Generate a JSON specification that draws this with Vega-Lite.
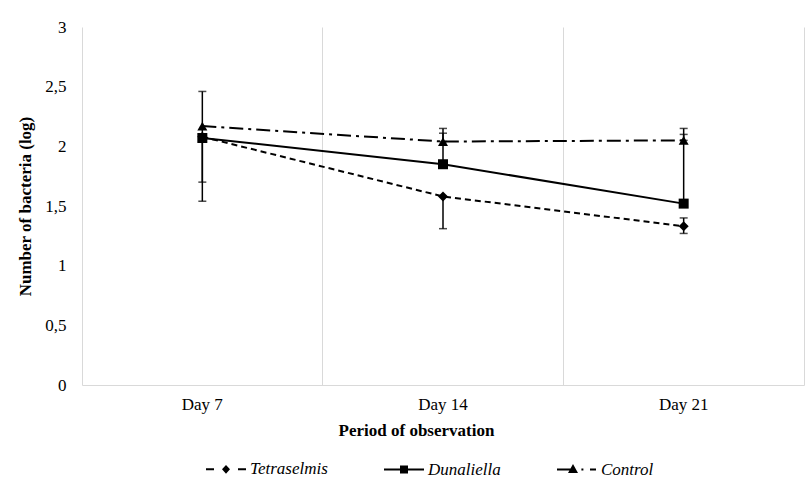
{
  "$schema": "https://vega.github.io/schema/vega-lite/v6.json",
  "width": 722,
  "height": 358,
  "autosize": "none",
  "padding": {"left": 82, "top": 27, "right": 8, "bottom": 116},
  "background": "white",
  "config": {"view": {"stroke": null}, "font": "Liberation Serif"},
  "datasets": {
    "means": [
      {"day": "Day 7", "series": "Tetraselmis", "value": 2.08},
      {"day": "Day 14", "series": "Tetraselmis", "value": 1.58},
      {"day": "Day 21", "series": "Tetraselmis", "value": 1.33},
      {"day": "Day 7", "series": "Dunaliella", "value": 2.07},
      {"day": "Day 14", "series": "Dunaliella", "value": 1.85},
      {"day": "Day 21", "series": "Dunaliella", "value": 1.52},
      {"day": "Day 7", "series": "Control", "value": 2.17},
      {"day": "Day 14", "series": "Control", "value": 2.04},
      {"day": "Day 21", "series": "Control", "value": 2.05}
    ],
    "errors": [
      {"day": "Day 7", "series": "Tetraselmis", "lo": 1.70, "hi": 2.46},
      {"day": "Day 7", "series": "Dunaliella", "lo": 1.54, "hi": 2.07},
      {"day": "Day 14", "series": "Tetraselmis", "lo": 1.31, "hi": 1.58},
      {"day": "Day 14", "series": "Dunaliella", "lo": 1.85, "hi": 2.11},
      {"day": "Day 14", "series": "Control", "lo": 2.04, "hi": 2.15},
      {"day": "Day 21", "series": "Tetraselmis", "lo": 1.27, "hi": 1.40},
      {"day": "Day 21", "series": "Dunaliella", "lo": 1.52, "hi": 2.10},
      {"day": "Day 21", "series": "Control", "lo": 2.05, "hi": 2.15}
    ]
  },
  "layer": [
    {
      "data": {"name": "means"},
      "transform": [{"filter": "datum.series === 'Tetraselmis'"}],
      "mark": {"type": "line", "strokeWidth": 2, "color": "black", "strokeDash": [6, 4]},
      "encoding": {
        "x": {
          "field": "day", "type": "nominal", "sort": ["Day 7", "Day 14", "Day 21"],
          "scale": {"type": "band", "paddingInner": 0, "paddingOuter": 0},
          "axis": {
            "title": "Period  of observation", "titleFontWeight": "bold", "titleFontSize": 17,
            "titleColor": "black", "titlePadding": 10, "titleX": 334,
            "labelAngle": 0, "labelFontSize": 17, "labelColor": "black", "labelPadding": 11,
            "ticks": false, "tickSize": 0, "domainColor": "#d9d9d9", "domainWidth": 1,
            "grid": true, "gridColor": "#d9d9d9", "gridWidth": 1, "bandPosition": 1
          }
        },
        "y": {
          "field": "value", "type": "quantitative",
          "scale": {"domain": [0, 3], "nice": false},
          "axis": {
            "title": "Number of bacteria (log)", "titleFontWeight": "bold", "titleFontSize": 17,
            "titleColor": "black", "titlePadding": 10,
            "values": [0, 0.5, 1, 1.5, 2, 2.5, 3],
            "labelExpr": "replace(format(datum.value, '.1~f'), '.', ',')",
            "labelFontSize": 17, "labelColor": "black", "labelPadding": 16,
            "ticks": false, "tickSize": 0, "grid": false,
            "domainColor": "#d9d9d9", "domainWidth": 1
          }
        }
      }
    },
    {
      "data": {"name": "means"},
      "transform": [{"filter": "datum.series === 'Dunaliella'"}],
      "mark": {"type": "line", "strokeWidth": 2, "color": "black"},
      "encoding": {
        "x": {"field": "day", "type": "nominal", "sort": ["Day 7", "Day 14", "Day 21"]},
        "y": {"field": "value", "type": "quantitative"}
      }
    },
    {
      "data": {"name": "means"},
      "transform": [{"filter": "datum.series === 'Control'"}],
      "mark": {"type": "line", "strokeWidth": 2, "color": "black", "strokeDash": [14, 5, 3, 5]},
      "encoding": {
        "x": {"field": "day", "type": "nominal", "sort": ["Day 7", "Day 14", "Day 21"]},
        "y": {"field": "value", "type": "quantitative"}
      }
    },
    {
      "data": {"name": "errors"},
      "mark": {"type": "rule", "strokeWidth": 1.5, "color": "black"},
      "encoding": {
        "x": {"field": "day", "type": "nominal", "sort": ["Day 7", "Day 14", "Day 21"]},
        "y": {"field": "lo", "type": "quantitative"},
        "y2": {"field": "hi"}
      }
    },
    {
      "data": {"name": "errors"},
      "mark": {"type": "tick", "size": 8, "thickness": 1.5, "color": "black", "orient": "horizontal"},
      "encoding": {
        "x": {"field": "day", "type": "nominal", "sort": ["Day 7", "Day 14", "Day 21"]},
        "y": {"field": "lo", "type": "quantitative"}
      }
    },
    {
      "data": {"name": "errors"},
      "mark": {"type": "tick", "size": 8, "thickness": 1.5, "color": "black", "orient": "horizontal"},
      "encoding": {
        "x": {"field": "day", "type": "nominal", "sort": ["Day 7", "Day 14", "Day 21"]},
        "y": {"field": "hi", "type": "quantitative"}
      }
    },
    {
      "data": {"name": "means"},
      "transform": [{"filter": "datum.series === 'Tetraselmis'"}],
      "mark": {"type": "point", "filled": true, "color": "black", "size": 100, "opacity": 1, "shape": "diamond"},
      "encoding": {
        "x": {"field": "day", "type": "nominal", "sort": ["Day 7", "Day 14", "Day 21"]},
        "y": {"field": "value", "type": "quantitative"}
      }
    },
    {
      "data": {"name": "means"},
      "transform": [{"filter": "datum.series === 'Dunaliella'"}],
      "mark": {"type": "point", "filled": true, "color": "black", "size": 100, "opacity": 1, "shape": "square"},
      "encoding": {
        "x": {"field": "day", "type": "nominal", "sort": ["Day 7", "Day 14", "Day 21"]},
        "y": {"field": "value", "type": "quantitative"}
      }
    },
    {
      "data": {"name": "means"},
      "transform": [{"filter": "datum.series === 'Control'"}],
      "mark": {"type": "point", "filled": true, "color": "black", "size": 100, "opacity": 1, "shape": "triangle-up"},
      "encoding": {
        "x": {"field": "day", "type": "nominal", "sort": ["Day 7", "Day 14", "Day 21"]},
        "y": {"field": "value", "type": "quantitative"}
      }
    },
    {
      "data": {"name": "means"},
      "transform": [{"filter": "false"}],
      "mark": {"type": "point", "fill": "black", "stroke": "black", "strokeWidth": 2, "opacity": 1},
      "encoding": {
        "x": {"field": "day", "type": "nominal", "sort": ["Day 7", "Day 14", "Day 21"]},
        "y": {"field": "value", "type": "quantitative"},
        "shape": {
          "field": "series", "type": "nominal",
          "scale": {
            "domain": ["Tetraselmis", "Dunaliella", "Control"],
            "range": [
              "M-1,-0.05H-0.6V0.05H-1ZM0.6,-0.05H1V0.05H0.6ZM0,-0.22L0.2,0L0,0.22L-0.2,0Z",
              "M-1,-0.05H1V0.05H-1ZM-0.2,-0.2H0.2V0.2H-0.2Z",
              "M-1,-0.05H-0.25V0.05H-1ZM0.22,-0.05H0.32V0.05H0.22ZM0.65,-0.05H0.95V0.05H0.65ZM-0.2,-0.28L0.05,0.18H-0.45Z"
            ]
          },
          "legend": {
            "orient": "none", "legendX": 123, "legendY": 421,
            "direction": "horizontal", "title": null,
            "symbolSize": 1600, "symbolStrokeWidth": 2,
            "symbolFillColor": "black", "symbolStrokeColor": "black", "symbolOpacity": 1,
            "labelFont": "Liberation Serif", "labelFontSize": 17, "labelColor": "black",
            "labelFontStyle": "italic",
            "labelOffset": 3, "columnPadding": 52
          }
        }
      }
    }
  ]
}
